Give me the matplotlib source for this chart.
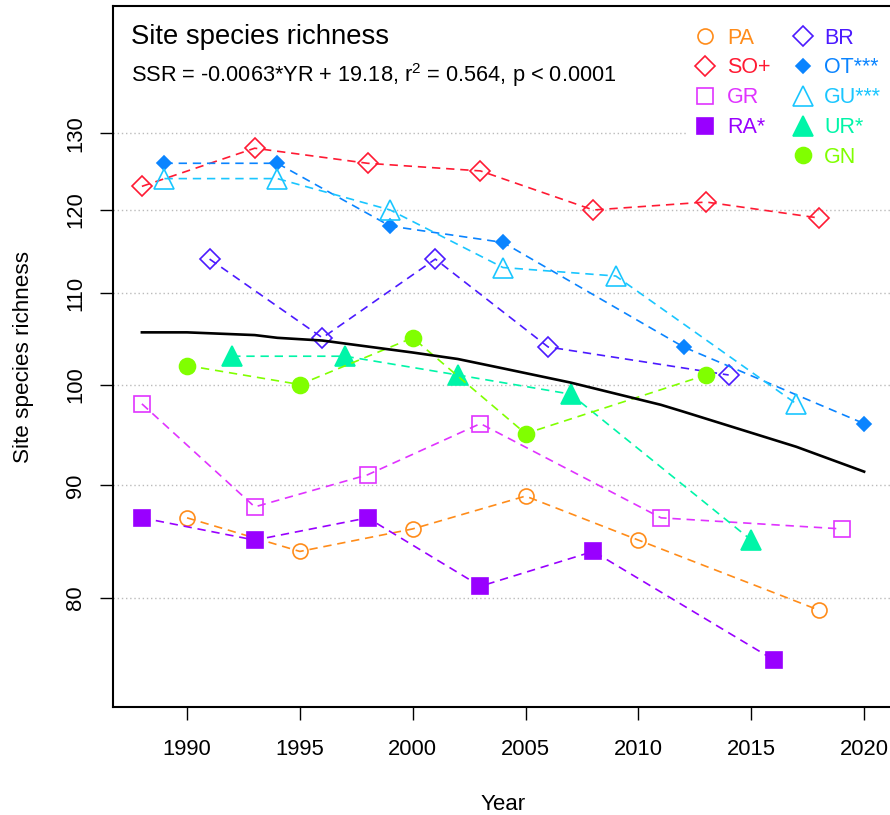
import matplotlib
matplotlib.use("Agg")
import matplotlib.pyplot as plt
from matplotlib.lines import Line2D
from matplotlib.ticker import NullLocator

plt.rcParams['font.family'] = ['Liberation Sans', 'DejaVu Sans']
plt.rcParams['mathtext.fontset'] = 'custom'
plt.rcParams['mathtext.rm'] = 'Liberation Sans'
plt.rcParams['mathtext.it'] = 'Liberation Sans:italic'

# survey years and site species richness per site
pa_years = [1990, 1995, 2000, 2005, 2010, 2018]
pa_rich = [87, 84, 86, 89, 85, 79]
so_years = [1988, 1993, 1998, 2003, 2008, 2013, 2018]
so_rich = [123, 128, 126, 125, 120, 121, 119]
gr_years = [1988, 1993, 1998, 2003, 2011, 2019]
gr_rich = [98, 88, 91, 96, 87, 86]
ra_years = [1988, 1993, 1998, 2003, 2008, 2016]
ra_rich = [87, 85, 87, 81, 84, 75]
br_years = [1991, 1996, 2001, 2006, 2014]
br_rich = [114, 105, 114, 104, 101]
ot_years = [1989, 1994, 1999, 2004, 2012, 2020]
ot_rich = [126, 126, 118, 116, 104, 96]
gu_years = [1989, 1994, 1999, 2004, 2009, 2017]
gu_rich = [124, 124, 120, 113, 112, 98]
ur_years = [1992, 1997, 2002, 2007, 2015]
ur_rich = [103, 103, 101, 99, 85]
gn_years = [1990, 1995, 2000, 2005, 2013]
gn_rich = [102, 100, 105, 95, 101]

# fitted trend
fit_years = [1988, 1990, 1993, 1994, 1996, 2000, 2002, 2004, 2007, 2011, 2012, 2017, 2020]
fit_rich = [105.6, 105.6, 105.3, 105.0, 104.7, 103.4, 102.7, 101.7, 100.2, 97.9, 97.2, 93.7, 91.3]

site_labels = ['PA', 'SO+', 'GR', 'RA*', 'BR', 'OT***', 'GU***', 'UR*', 'GN']
y_ticks = [80, 90, 100, 110, 120, 130]
x_ticks = [1990, 1995, 2000, 2005, 2010, 2015, 2020]

# marker, size, filled, colour
styles = {
    'PA': ('o', 10.8, False, '#FF8C1A'),
    'SO+': ('D', 10.0, False, '#FF1A33'),
    'GR': ('s', 11.5, False, '#E033FF'),
    'RA*': ('s', 11.5, True, '#9900FF'),
    'BR': ('D', 10.5, False, '#4C1AFF'),
    'OT***': ('D', 7.0, True, '#0A84FF'),
    'GU***': ('^', 14.0, False, '#1AC6FF'),
    'UR*': ('^', 14.0, True, '#00F5A8'),
    'GN': ('o', 11.5, True, '#80FF00'),
}
series = {
    'PA': (pa_years, pa_rich), 'SO+': (so_years, so_rich), 'GR': (gr_years, gr_rich),
    'RA*': (ra_years, ra_rich), 'BR': (br_years, br_rich), 'OT***': (ot_years, ot_rich),
    'GU***': (gu_years, gu_rich), 'UR*': (ur_years, ur_rich), 'GN': (gn_years, gn_rich),
}

fig = plt.figure(figsize=(8.9, 8.15), dpi=100)
ax = fig.add_axes([113 / 890, 108 / 815, 780 / 890, 701 / 815])

for name in site_labels:
    yrs, vals = series[name]
    m, ms, filled, c = styles[name]
    ax.plot(yrs, vals, linestyle=(0, (5, 3.5)), lw=1.2, color=c,
            marker=m, ms=ms, mfc=c if filled else 'none', mec=c, mew=1.2, zorder=3)

ax.plot(fit_years, fit_rich, color='black', lw=1.9, zorder=4)

ax.set_yscale('log')
ax.set_ylim(71.4, 148.5)
ax.set_xlim(1986.72, 2021.28)
ax.set_yticks(y_ticks)
ax.set_yticklabels([str(v) for v in y_ticks])
ax.yaxis.set_minor_locator(NullLocator())
ax.set_xticks(x_ticks)
ax.grid(axis='y', color='#BBBBBB', linestyle=(0, (1, 2)), lw=1)
ax.set_axisbelow(True)

ax.tick_params(axis='both', direction='out', length=9.4, width=1, labelsize=15.8)
ax.tick_params(axis='x', pad=13.5)
ax.tick_params(axis='y', pad=10, labelrotation=90)
for lbl in ax.get_yticklabels():
    lbl.set_va('center')
for sp in ax.spines.values():
    sp.set_linewidth(1.5)

ax.set_xlabel('Year', fontsize=16)
ax.xaxis.set_label_coords(0.5, -0.124)
ax.set_ylabel('Site species richness', fontsize=16.2)
ax.yaxis.set_label_coords(-0.101, 0.5)

ax.text(0.0231, 0.956, 'Site species richness', transform=ax.transAxes,
        fontsize=19.8, va='center', ha='left')
ax.text(0.0231, 0.902, r'SSR = -0.0063*YR + 19.18, r$^{\mathrm{2}}$ = 0.564, p < 0.0001',
        transform=ax.transAxes, fontsize=15.7, va='center', ha='left')

handles = []
labels = []
order = ['PA', 'SO+', 'GR', 'RA*', None, 'BR', 'OT***', 'GU***', 'UR*', 'GN']
for name in order:
    if name is None:
        handles.append(Line2D([], [], ls='none'))
        labels.append('')
        continue
    m, ms, filled, c = styles[name]
    handles.append(Line2D([], [], ls='none', marker=m, ms=ms, mec=c, mew=1.2,
                          mfc=c if filled else 'none'))
    labels.append(name)

leg = ax.legend(handles, labels, ncol=2, loc='upper left',
                bbox_to_anchor=(686 / 890, 1 - 19 / 815), bbox_transform=fig.transFigure,
                frameon=True, facecolor='white', edgecolor='none', framealpha=1,
                fancybox=False, fontsize=15.5, handlelength=1.0, handletextpad=0.5,
                columnspacing=1.0, labelspacing=0.41, borderpad=0.4, borderaxespad=0)
for txt, name in zip(leg.get_texts(), order):
    if name is not None:
        txt.set_color(styles[name][3])

fig.savefig('out.png', dpi=100)
